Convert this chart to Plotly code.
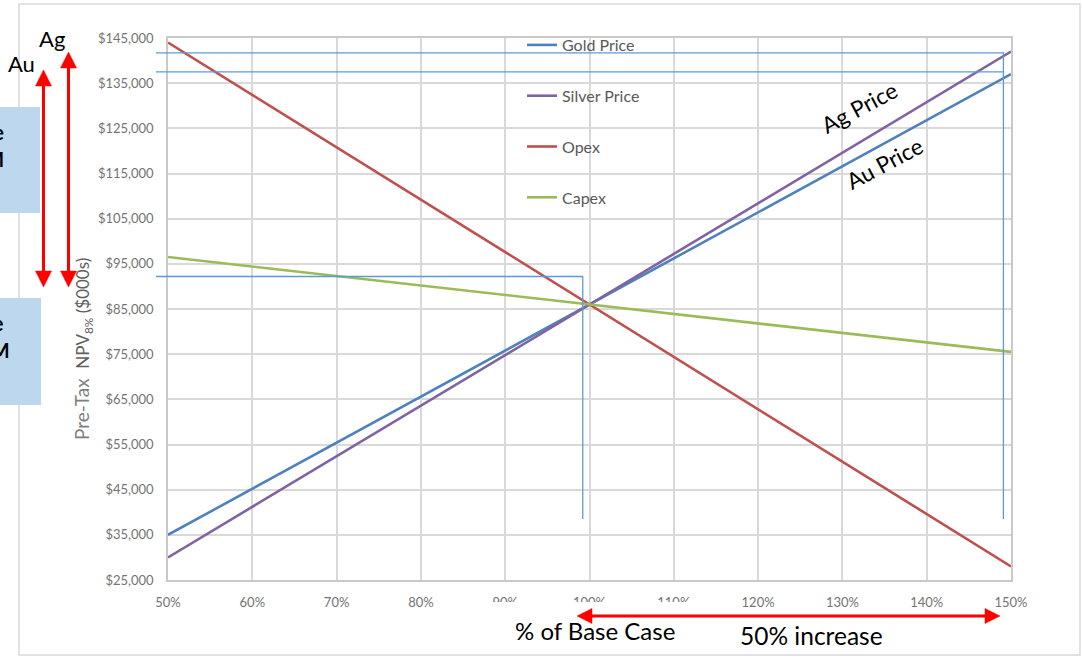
import plotly.graph_objects as go

# Sensitivity of pre-tax NPV (8%) to each driver, as % of the base case
pct = [50, 60, 70, 80, 90, 100, 110, 120, 130, 140, 150]
gold_npv = [35000, 45200, 55400, 65600, 75800, 86000, 96200, 106400, 116600, 126800, 137000]
silver_npv = [30000, 41200, 52400, 63600, 74800, 86000, 97200, 108400, 119600, 130800, 142000]
opex_npv = [144000, 132400, 120800, 109200, 97600, 86000, 74400, 62800, 51200, 39600, 28000]
capex_npv = [96500, 94400, 92300, 90200, 88100, 86000, 83900, 81800, 79700, 77600, 75500]

x_tick_vals = pct
x_tick_labels = ["50%", "60%", "70%", "80%", "90%", "100%", "110%", "120%", "130%", "140%", "150%"]
y_tick_vals = [25000, 35000, 45000, 55000, 65000, 75000, 85000, 95000, 105000, 115000, 125000, 135000, 145000]
y_tick_labels = ["$25,000", "$35,000", "$45,000", "$55,000", "$65,000", "$75,000", "$85,000",
                 "$95,000", "$105,000", "$115,000", "$125,000", "$135,000", "$145,000"]

series_names = ["Gold Price", "Silver Price", "Opex", "Capex"]
series_values = [gold_npv, silver_npv, opex_npv, capex_npv]
series_colors = ["#4F81BD", "#8064A2", "#C0504D", "#9BBB59"]

# Canvas and plot-area geometry (pixels)
W, H = 1082, 657
L, R, T, B = 168, 1011, 38, 580


def px(x):
    return (x - L) / (R - L)


def py(y):
    return (B - y) / (B - T)


FONT = "Lato, Carlito, Calibri, sans-serif"
GRAY = "#737373"
RED = "#ff0000"
LBLUE = "#5B9BD5"

fig = go.Figure()
for i, (name, vals, col) in enumerate(zip(series_names, series_values, series_colors)):
    fig.add_trace(go.Scatter(
        x=pct, y=vals, name=name, mode="lines",
        line=dict(color=col, width=2.6),
        legendgroup=f"g{i}",
    ))

shapes = []

# outer chart frame
shapes.append(dict(type="rect", xref="paper", yref="paper",
                   x0=px(19), x1=px(1080), y0=py(655), y1=py(4),
                   line=dict(color="#d9d9d9", width=1.5), layer="below"))

# side call-out boxes
for (x0, x1, y0, y1) in [(-5, 40, 107, 213), (-5, 41, 298, 405)]:
    shapes.append(dict(type="rect", xref="paper", yref="paper",
                       x0=px(x0), x1=px(x1), y0=py(y1), y1=py(y0),
                       fillcolor="#BDD7EE", line=dict(width=0), layer="above"))

# thin reference lines
ref_line = dict(color=LBLUE, width=1.3)
for yv in [141700, 137500]:
    shapes.append(dict(type="line", xref="paper", yref="y",
                       x0=px(156), x1=px(1004), y0=yv, y1=yv, line=ref_line, layer="above"))
shapes.append(dict(type="line", xref="x", yref="y", x0=149.1, x1=149.1,
                   y0=141700, y1=38500, line=ref_line, layer="above"))
shapes.append(dict(type="line", xref="paper", yref="y",
                   x0=px(156), x1=px(583), y0=92200, y1=92200, line=ref_line, layer="above"))
shapes.append(dict(type="line", xref="x", yref="y", x0=99.2, x1=99.2,
                   y0=92200, y1=38500, line=ref_line, layer="above"))

# white patch behind the x-axis caption
shapes.append(dict(type="rect", xref="paper", yref="paper",
                   x0=px(487), x1=px(702), y0=py(652), y1=py(602),
                   fillcolor="white", line=dict(width=0), layer="above"))


def arrow_head(tip, base_c, half):
    """Triangle path in paper coords; tip and base centre given in pixels."""
    tx, ty = tip
    bx, by = base_c
    if tx == bx:  # vertical
        p1 = (bx - half, by)
        p2 = (bx + half, by)
    else:
        p1 = (bx, by - half)
        p2 = (bx, by + half)
    pts = [tip, p1, p2]
    d = "M" + " L".join(f"{px(x):.5f},{py(y):.5f}" for x, y in pts) + " Z"
    return dict(type="path", xref="paper", yref="paper", path=d,
                fillcolor=RED, line=dict(color=RED, width=0.5), layer="above")


def double_arrow(p_start, p_end, head_len=16, half=8, width=3):
    (x0, y0), (x1, y1) = p_start, p_end
    out = []
    if x0 == x1:
        sgn = 1 if y1 > y0 else -1
        b0 = (x0, y0 + sgn * head_len)
        b1 = (x1, y1 - sgn * head_len)
    else:
        sgn = 1 if x1 > x0 else -1
        b0 = (x0 + sgn * head_len, y0)
        b1 = (x1 - sgn * head_len, y1)
    out.append(dict(type="line", xref="paper", yref="paper",
                    x0=px(b0[0]), y0=py(b0[1]), x1=px(b1[0]), y1=py(b1[1]),
                    line=dict(color=RED, width=width), layer="above"))
    out.append(arrow_head(p_start, b0, half))
    out.append(arrow_head(p_end, b1, half))
    return out


shapes += double_arrow((43.5, 70), (43.5, 287))
shapes += double_arrow((68.5, 52), (68.5, 287))
shapes += double_arrow((577, 616), (1000, 616), head_len=15, half=7.5)

annotations = []


def label(text, x, y, size, color="black", angle=0, xanchor="center", bold=False):
    t = f"<b>{text}</b>" if bold else text
    annotations.append(dict(text=t, xref="paper", yref="paper", x=px(x), y=py(y),
                            xanchor=xanchor, yanchor="middle", showarrow=False,
                            textangle=angle, font=dict(family=FONT, size=size, color=color)))


label("Ag", 51.5, 38, 22)
label("Au", 21, 63, 22)
label("Ag Price", 859, 107, 22.5, angle=-28)
label("Au Price", 884, 163, 22.5, angle=-28)
label("% of Base Case", 595, 630, 24)
label("50% increase", 811, 635, 24.5)

# call-out box texts (mostly running off the left edge)
label("High Case", 6, 132, 20, xanchor="right", bold=True)
label("$142 M", 6, 159, 20, xanchor="right", bold=True)
label("Base Case", 6, 323, 20, xanchor="right", bold=True)
label("$86 M", 12, 350, 20, xanchor="right", bold=True)

# y-axis title
annotations.append(dict(
    text="Pre-Tax  <span style='font-size:17px;color:#5f5f5f'>NPV<sub>8%</sub> ($000s)</span>",
    xref="paper", yref="paper", x=px(83), y=py(349), xanchor="center", yanchor="middle",
    showarrow=False, textangle=-90, font=dict(family=FONT, size=19, color="#7f7f7f")))

axis_common = dict(
    showgrid=True, gridcolor="#d9d9d9", gridwidth=1.6,
    showline=True, linecolor="#c9c9c9", linewidth=1.5, mirror=True,
    zeroline=False, ticks="",
    tickfont=dict(family=FONT, size=13, color=GRAY),
)

fig.update_layout(
    width=W, height=H,
    margin=dict(l=L, r=W - R, t=T, b=H - B),
    paper_bgcolor="white", plot_bgcolor="white",
    xaxis=dict(range=[50, 150], tickvals=x_tick_vals, ticktext=x_tick_labels,
               ticklabelstandoff=10, **axis_common),
    yaxis=dict(range=[25000, 145000], tickvals=y_tick_vals, ticktext=y_tick_labels,
               ticklabelstandoff=10, **axis_common),
    legend=dict(x=px(522), y=py(28), xanchor="left", yanchor="top",
                bgcolor="rgba(0,0,0,0)", borderwidth=0, tracegroupgap=27,
                font=dict(family=FONT, size=16, color="#595959")),
    shapes=shapes,
    annotations=annotations,
    showlegend=True,
)

fig.write_html("out.html")
